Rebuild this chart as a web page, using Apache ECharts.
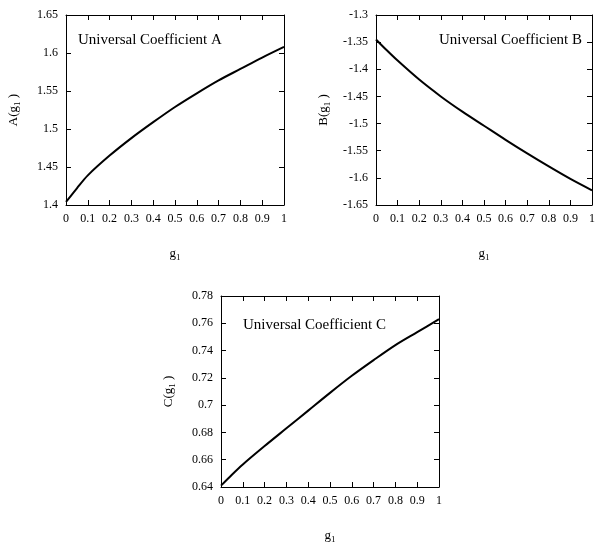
<!DOCTYPE html>
<html><head><meta charset="utf-8">
<script src="https://cdn.jsdelivr.net/npm/echarts@6/dist/echarts.min.js"></script>
<style>html,body{margin:0;padding:0;background:#fff}#c{width:598px;height:546px}</style>
</head><body><div id="c"></div>
<script>
const xs = [0, 0.05, 0.1, 0.2, 0.3, 0.4, 0.5, 0.6, 0.7, 0.8, 0.9, 1.0];
const aVals = [1.404, 1.422, 1.439, 1.465, 1.488, 1.509, 1.529, 1.547, 1.564, 1.579, 1.594, 1.608];
const bVals = [-1.345, -1.365, -1.384, -1.419, -1.450, -1.478, -1.504, -1.530, -1.555, -1.579, -1.602, -1.623];
const cVals = [0.641, 0.649, 0.6565, 0.670, 0.683, 0.696, 0.709, 0.7215, 0.733, 0.744, 0.7535, 0.763];
const yRanges = [[1.4, 1.65, 0.05], [-1.65, -1.3, 0.05], [0.64, 0.78, 0.02]];
const labels = ['Universal Coefficient A', 'Universal Coefficient B', 'Universal Coefficient C'];
const yNames = ['A', 'B', 'C'];

const font = 'Liberation Serif';
const grids = [
  {left: 66, top: 15, width: 218, height: 190},
  {left: 376, top: 15, width: 218, height: 190},
  {left: 221, top: 296, width: 218, height: 191}
];
const rich = {s: {fontSize: 9, fontFamily: font, color: '#000', padding: [8, 0, 0, 0]}, n: {fontSize: 13, fontFamily: font, color: '#000'}};
const xAxis = [], yAxis = [], series = [];
const vals = [aVals, bVals, cVals];
grids.forEach((g, i) => {
  const common = {gridIndex: i, type: 'value', splitLine: {show: false},
    axisLine: {show: true, onZero: false, lineStyle: {color: '#000', width: 1}},
    axisTick: {show: true, inside: true, length: 5, lineStyle: {color: '#000'}}};
  xAxis.push(Object.assign({}, common, {position: 'bottom', min: 0, max: 1, interval: 0.1,
    axisLabel: {color: '#000', fontFamily: font, fontSize: 12, margin: 8, formatter: v => String(+v.toFixed(1))},
    name: '{n|g}{s|1}', nameLocation: 'middle', nameGap: 40, nameTextStyle: {rich: rich}}));
  xAxis.push(Object.assign({}, common, {position: 'top', min: 0, max: 1, interval: 0.1, axisLabel: {show: false}}));
  const r = yRanges[i];
  yAxis.push(Object.assign({}, common, {position: 'left', min: r[0], max: r[1], interval: r[2],
    axisLabel: {color: '#000', fontFamily: font, fontSize: 12, margin: 8, formatter: v => String(+v.toFixed(2))},
    name: '{n|' + yNames[i] + '(g}{s|1}{n| )}', nameLocation: 'middle', nameGap: 44, nameTextStyle: {rich: rich}}));
  yAxis.push(Object.assign({}, common, {position: 'right', min: r[0], max: r[1], interval: r[2], axisLabel: {show: false}}));
  series.push({type: 'line', xAxisIndex: 2 * i, yAxisIndex: 2 * i, smooth: 0.3, symbol: 'none',
    lineStyle: {color: '#000', width: 2}, data: xs.map((x, k) => [x, vals[i][k]])});
});
const chart = echarts.init(document.getElementById('c'));
chart.setOption({
  animation: false,
  grid: grids,
  xAxis: xAxis, yAxis: yAxis, series: series,
  title: [
    {text: labels[0], left: 78, top: 33},
    {text: labels[1], left: 439, top: 33},
    {text: labels[2], left: 243, top: 318}
  ].map(t => Object.assign(t, {textStyle: {fontFamily: font, fontSize: 15, fontWeight: 'normal', color: '#000'}, padding: 0}))
});
</script></body></html>
